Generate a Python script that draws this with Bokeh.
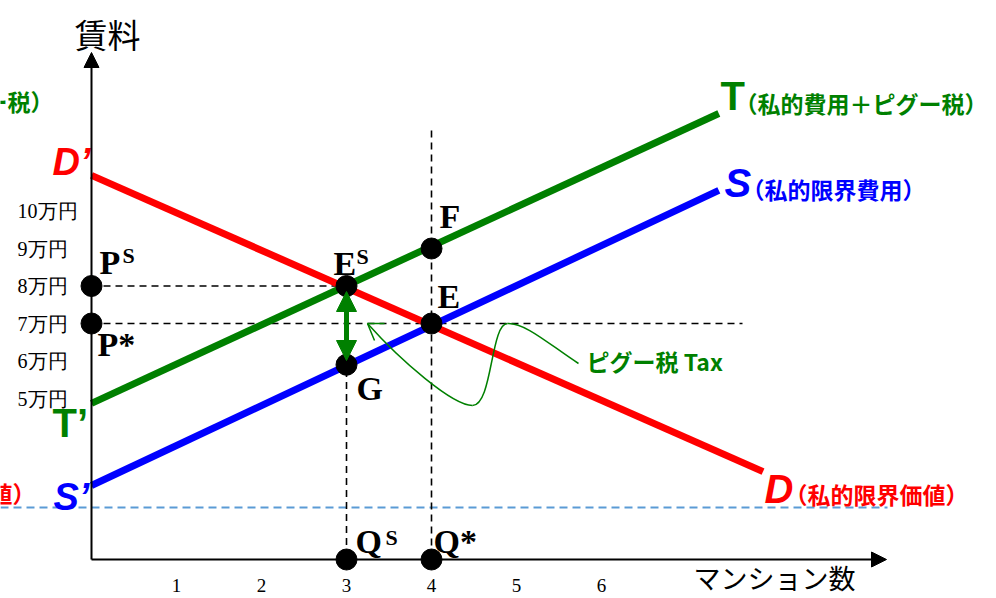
from bokeh.plotting import figure
from bokeh.models import Range1d, Arrow, NormalHead
from bokeh.core.properties import value
from bokeh.embed import file_html
from bokeh.resources import INLINE

# ---------------- data ----------------
quantity_ticks = [1, 2, 3, 4, 5, 6]
quantity_tick_labels = ["1", "2", "3", "4", "5", "6"]
price_ticks = [5, 6, 7, 8, 9, 10]
price_tick_labels = ["5万円", "6万円", "7万円", "8万円", "9万円", "10万円"]

# D (private marginal value), S (private marginal cost), T (private cost + Pigou tax)
demand_q = [0.0, 7.9]
demand_p = [10.95, 3.05]
supply_q = [0.0, 7.38]
supply_p = [2.68, 10.55]
tax_q = [0.0, 7.38]
tax_p = [4.87, 12.6]

q_star = 4      # Q*
q_s = 3         # Q^S
p_star = 7      # P*
p_s = 8         # P^S
p_g = 5.9       # G
p_f = 9         # F

RED = "#FF0000"
GREEN = "#008000"
BLUE = "#0000FF"
LIGHTBLUE = "#5B9BD5"

# ---------------- layout / scale helpers ----------------
W, H = 996, 598
XS, YS = 85.0, 37.5          # px per unit
ORIGIN_PX, P7_PY = 91, 323    # page px of q=0 and p=7


def gx(page_x):
    return (page_x - ORIGIN_PX) / XS


def gy(page_y):
    return 7 - (page_y - P7_PY) / YS


p = figure(width=W, height=H, output_backend="svg", toolbar_location=None,
           x_axis_type=None, y_axis_type=None,
           x_range=Range1d(gx(0), gx(W)), y_range=Range1d(gy(H), gy(0)),
           min_border=0, min_border_left=0, min_border_right=0,
           min_border_top=0, min_border_bottom=0)
p.outline_line_color = None
p.grid.visible = False
p.background_fill_color = "white"
p.border_fill_color = "white"

axis_v = gy(559)
axis_top = gy(52)
axis_right = gx(886)

# ---------------- dashed guide lines ----------------
p.line([gx(0), gx(887)], [gy(507), gy(507)], line_color=LIGHTBLUE, line_width=2, line_dash="8 5")
p.line([0, q_s], [p_s, p_s], line_color="black", line_width=1.6, line_dash="7 5")
p.line([0, gx(742)], [p_star, p_star], line_color="black", line_width=1.6, line_dash="7 5")
p.line([q_s, q_s], [p_s, axis_v], line_color="black", line_width=1.6, line_dash="7 5")
p.line([q_star, q_star], [gy(130), axis_v], line_color="black", line_width=1.6, line_dash="7 5")

# ---------------- curves ----------------
p.line(demand_q, demand_p, line_color=RED, line_width=7)
p.line(tax_q, tax_p, line_color=GREEN, line_width=7)
p.line(supply_q, supply_p, line_color=BLUE, line_width=7)

# ---------------- axes with arrow heads ----------------
p.add_layout(Arrow(end=NormalHead(size=15, fill_color="black", line_color="black"),
                   x_start=0, y_start=axis_v, x_end=0, y_end=axis_top,
                   line_color="black", line_width=2))
p.add_layout(Arrow(end=NormalHead(size=15, fill_color="black", line_color="black"),
                   x_start=0, y_start=axis_v, x_end=axis_right, y_end=axis_v,
                   line_color="black", line_width=2))

# ---------------- points ----------------
pts_x = [0, 0, q_s, q_s, q_star, q_star, q_s, q_star]
pts_y = [p_s, p_star, p_s, p_g, p_star, p_f, axis_v, axis_v]
p.scatter(pts_x, pts_y, size=21, fill_color="black", line_color="black")

# tax double arrow between E^S and G
p.add_layout(Arrow(start=NormalHead(size=20, fill_color=GREEN, line_color=GREEN),
                   end=NormalHead(size=20, fill_color=GREEN, line_color=GREEN),
                   x_start=q_s, y_start=gy(291), x_end=q_s, y_end=gy(360),
                   line_color=GREEN, line_width=5))

# thin pointer curve from "ピグー税 Tax"
bz = [  # page px: x0,y0, x1,y1, cx0,cy0, cx1,cy1
    (578, 363, 507, 323, 550, 345, 525, 322),
    (507, 323, 472, 405, 490, 323, 492, 405),
    (472, 405, 367, 323, 452, 405, 400, 360),
]
p.bezier(x0=[gx(b[0]) for b in bz], y0=[gy(b[1]) for b in bz],
         x1=[gx(b[2]) for b in bz], y1=[gy(b[3]) for b in bz],
         cx0=[gx(b[4]) for b in bz], cy0=[gy(b[5]) for b in bz],
         cx1=[gx(b[6]) for b in bz], cy1=[gy(b[7]) for b in bz],
         line_color=GREEN, line_width=1.5)
p.segment(x0=[gx(367), gx(367)], y0=[gy(323), gy(323)],
          x1=[gx(384), gx(374)], y1=[gy(323), gy(340)],
          line_color=GREEN, line_width=1.5)

# ---------------- tick labels ----------------
p.text(x=quantity_ticks, y=[gy(585)] * len(quantity_ticks), text=quantity_tick_labels,
       text_font=value("Liberation Serif"), text_font_size="19px",
       text_align="center", text_baseline="middle", text_color="black")
p.text(x=[gx(17)] * len(price_ticks), y=price_ticks, text=price_tick_labels,
       text_font=value("Liberation Serif"), text_font_size="20px",
       text_align="left", text_baseline="middle", text_color="black")


def label(txt, px, py, size, color="black", font="Liberation Serif", style="bold",
          align="left"):
    # (px, py): page position of the left (or right/centre) edge and vertical middle
    p.text(x=[gx(px)], y=[gy(py)], text=[txt], text_font=value(font),
           text_font_size=f"{size}px", text_font_style=style, text_color=color,
           text_align=align, text_baseline="middle")


# axis titles
label("賃料", 107, 33, 33, font="Noto Sans CJK JP", style="normal", align="center")
label("マンション数", 774, 577, 27, font="Noto Sans CJK JP", style="normal", align="center")

# point labels
label("P", 99, 262, 34)
label("S", 122, 255, 22)
label("P*", 97, 344, 34)
label("E", 333, 263, 34)
label("S", 356, 256, 22)
label("F", 439, 216, 34)
label("E", 437, 296, 34)
label("G", 356, 388, 34)
label("Q", 355, 541, 34)
label("S", 385, 537, 22)
label("Q*", 433, 541, 34)

# curve labels
JP = "Noto Sans CJK JP"
label("D’", 52, 161, 38, color=RED, font="Liberation Sans", style="bold italic")
label("T’", 52, 422, 40, color=GREEN, font="Liberation Sans", style="bold")
label("S’", 53, 496, 38, color=BLUE, font="Liberation Sans", style="bold italic")

label("T", 720, 95, 40, color=GREEN, font="Liberation Sans", style="bold")
label("（私的費用＋ピグー税）", 734, 102, 23, color=GREEN, font=JP)
label("S", 724, 182, 40, color=BLUE, font="Liberation Sans", style="bold italic")
label("（私的限界費用）", 741, 188, 23, color=BLUE, font=JP)
label("D", 764, 488, 40, color=RED, font="Liberation Sans", style="bold italic")
label("（私的限界価値）", 784, 493, 23, color=RED, font=JP)

label("ピグー税 Tax", 586, 360, 23, color=GREEN, font=JP)

# partially visible labels at the left edge (cut off in the original as well)
label("（私的費用＋ピグー税）", 53, 100, 23, color=GREEN, font=JP, align="right")
label("（私的限界価値）", 35, 492, 23, color=RED, font=JP, align="right")

open("out.html", "w").write(file_html(p, INLINE))
